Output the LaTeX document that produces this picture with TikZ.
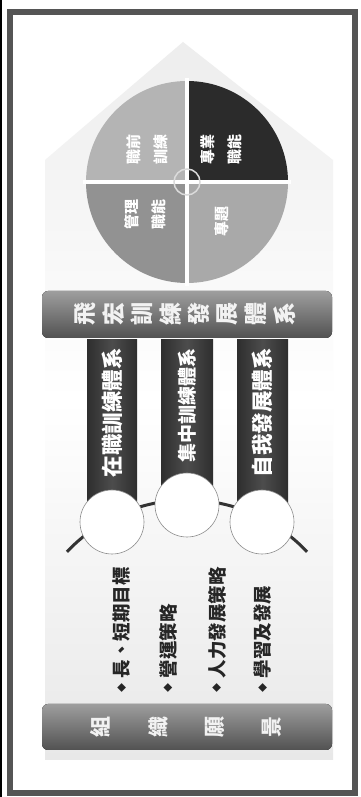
\documentclass[tikz,border=0pt]{standalone}
\usepackage{fontspec}
\setmainfont{Noto Sans CJK TC}
\usetikzlibrary{positioning}
\definecolor{framegray}{HTML}{555555}
\definecolor{qlight}{HTML}{B4B4B4}
\definecolor{qdark}{HTML}{2B2B2B}
\definecolor{qmid}{HTML}{929292}
\definecolor{qsoft}{HTML}{A9A9A9}
\tikzset{
  bigbar/.style={rounded corners=6pt, top color=black!38, bottom color=black!68},
  subbar/.style={left color=black!82, right color=black!82, middle color=black!70},
  knob/.style={circle, draw=black!45, line width=0.6pt, fill=white, minimum size=64pt, inner sep=0pt},
  bigchar/.style={rotate=90, text=black!5, font=\bfseries\fontsize{23}{23}\selectfont, inner sep=0pt},
  bartext/.style={rotate=90, anchor=east, text=white, inner sep=0pt},
  listtext/.style={rotate=90, anchor=west, text=black!85, font=\bfseries\fontsize{18.5}{18.5}\selectfont, inner sep=0pt},
  pietext/.style={rotate=90, align=center, text=white, font=\bfseries\fontsize{15}{27}\selectfont, inner sep=0pt},
}
\begin{document}
\begin{tikzpicture}[x=1pt, y=1pt]
      \useasboundingbox (0,0) rectangle (361,797);
      \fill[white] (0,0) rectangle (361,797);
      \fill[black] (0,0) rectangle (2,797);
      \draw[framegray, line width=6pt] (9.5,4) rectangle (355,785);
      %
      % background house
      \shade[top color=gray!14, bottom color=gray!18, middle color=white]
        (45,37) -- (333,37) -- (333,637) -- (183,755) -- (45,637) -- cycle;
      %
      % pie
      \coordinate (pc) at (187,615);
      \fill[qlight] (pc) -- ++(90:101) arc (90:180:101) -- cycle;
      \fill[qdark] (pc) -- ++(0:101) arc (0:90:101) -- cycle;
      \fill[qmid] (pc) -- ++(180:101) arc (180:270:101) -- cycle;
      \fill[qsoft] (pc) -- ++(270:101) arc (270:360:101) -- cycle;
      \draw[white, line width=4pt] ([xshift=-104pt]pc) -- ([xshift=104pt]pc);
      \draw[white, line width=4pt] ([yshift=-104pt]pc) -- ([yshift=104pt]pc);
      \draw[gray!28, line width=1.5pt] (pc) circle (13);
      %
      \node[pietext] (pre) at (147,647) {職前\\訓練};
      \node[pietext] (pro) at (221,647) {專業\\職能};
      \node[pietext] (mgt) at (145,582) {管理\\職能};
      \node[pietext] (top) at (222,575) {專題};
      %
      % main bar
      \fill[bigbar] (42,459) rectangle (332,506);
      \foreach \c [count=\i] in {飛,宏,訓,練,發,展,體,系}
        \node[bigchar] (sys\i) at ({85+28.5*(\i-1)},482.5) {\c};
      %
      % arc and sub bars
      \coordinate (arcc) at (187,132);
      \draw[black!80, line width=3pt] (arcc) ++(136.7:165) arc (136.7:43.3:165);
      \fill[subbar] (87,275) rectangle (137,457);
      \fill[subbar] (161,292) rectangle (213,457);
      \fill[subbar] (237,275) rectangle (288,457);
      \node[knob] (c1) at (112,275) {};
      \node[knob] (c2) at (187,292) {};
      \node[knob] (c3) at (262,275) {};
      %
      \node[bartext, font=\bfseries\fontsize{21.5}{21.5}\selectfont] (ojt) at (112,449) {在職訓練體系};
      \node[bartext, font=\bfseries\fontsize{19}{19}\selectfont] (cen) at (187,449) {集中訓練體系};
      \node[bartext, font=\bfseries\fontsize{21.5}{21.5}\selectfont] (self) at (262,449) {自我發展體系};
      %
      % vision list
      \node[listtext] (l1) at (122,104.5) {\raisebox{3.8pt}{\fontsize{9}{9}\selectfont ◆}\hspace{5pt}長、短期目標};
      \node[listtext] (l2) at (168,104.5) {\raisebox{3.8pt}{\fontsize{9}{9}\selectfont ◆}\hspace{5pt}營運策略};
      \node[listtext] (l3) at (217,104.5) {\raisebox{3.8pt}{\fontsize{9}{9}\selectfont ◆}\hspace{5pt}人力發展策略};
      \node[listtext] (l4) at (263,104.5) {\raisebox{3.8pt}{\fontsize{9}{9}\selectfont ◆}\hspace{5pt}學習及發展};
      %
      % vision bar
      \fill[bigbar] (42,47) rectangle (332,93);
      \node[bigchar, font=\bfseries\fontsize{21}{21}\selectfont] (v1) at (100,70) {組};
      \node[bigchar, font=\bfseries\fontsize{21}{21}\selectfont] (v2) at (158,70) {織};
      \node[bigchar, font=\bfseries\fontsize{21}{21}\selectfont] (v3) at (215,70) {願};
      \node[bigchar, font=\bfseries\fontsize{21}{21}\selectfont] (v4) at (272,70) {景};
      %
    \end{tikzpicture}
\end{document}
